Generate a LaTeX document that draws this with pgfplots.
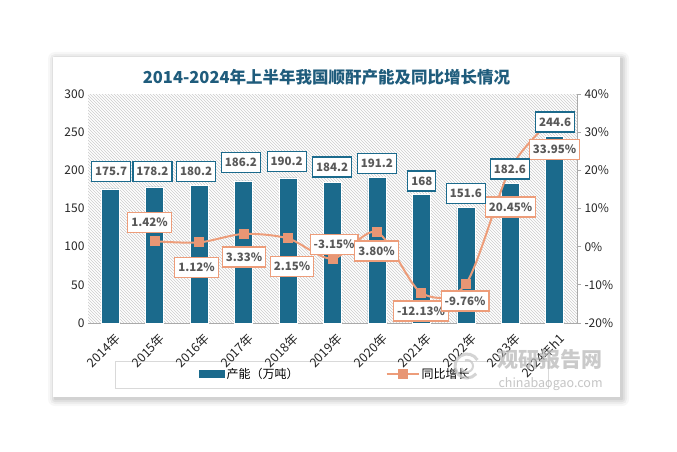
\documentclass[border=0pt]{standalone}
\usepackage{pgfplots}
\pgfplotsset{compat=1.18}
\usetikzlibrary{patterns}
\usepackage{fontspec}
\setmainfont{Noto Sans CJK SC}

\definecolor{barc}{RGB}{27,106,140}
\definecolor{linec}{RGB}{237,157,122}
\definecolor{markc}{RGB}{232,150,116}
\definecolor{txtc}{RGB}{89,89,89}
\definecolor{titlec}{RGB}{31,92,124}
\definecolor{axc}{RGB}{170,170,170}

\tikzset{
  bl/.style={draw=barc, fill=white, line width=1.2pt, text=txtc,
    font=\bfseries\fontsize{11.5}{12}\selectfont, inner xsep=3.5pt, inner ysep=2pt, minimum height=20pt},
  ll/.style={bl, draw=linec}
}
\pgfplotsset{
  linelegend/.style={legend image code/.code={%
    \draw[mark repeat=2,mark phase=2,##1] plot coordinates {(0pt,0pt) (16pt,0pt) (32pt,0pt)};}},
  barlegend/.style={legend image code/.code={%
    \fill[barc] (0pt,-3.5pt) rectangle (25pt,3.5pt);}}
}

\begin{document}
\begin{tikzpicture}[x=1pt,y=1pt]
\path[fill=white,use as bounding box] (0,0) rectangle (677,451);
% card with soft shadow
\foreach \d/\o in {7/0.03,5/0.04,3/0.05,1/0.06}{
  \fill[black,opacity=\o,rounded corners=\d] (53-\d+2,54-\d-2) rectangle (620+\d+2,394+\d-2);}
\fill[white] (53,54) rectangle (620,394);
% title
\node[font=\bfseries\fontsize{16.5}{18}\selectfont, text=titlec] at (326.5,374) {2014-2024年上半年我国顺酐产能及同比增长情况};
% legend frame
\draw[gray!30, line width=0.8pt] (115,63) rectangle (548,90);

\begin{axis}[
    at={(88pt,128pt)}, anchor=south west,
    scale only axis, width=489pt, height=229pt,
    xmin=-0.5, xmax=10.5, ymin=0, ymax=300,
    axis x line*=bottom, axis y line*=left,
    y axis line style={draw=none},
    x axis line style={draw=axc, line width=0.8pt, -},
    ytick={0,50,...,300}, yticklabels={0,50,100,150,200,250,300},
    ytick style={draw=none}, xtick style={draw=none},
    xtick={0,...,10},
    xticklabels={2014年,2015年,2016年,2017年,2018年,2019年,2020年,2021年,2022年,2023年,2024年h1},
    xticklabel style={rotate=45, anchor=north east, inner sep=1pt, yshift=-5pt,
      font=\fontsize{12.5}{13}\selectfont, text=black!85},
    yticklabel style={font=\fontsize{12}{13}\selectfont, text=black!85},
    axis background/.style={pattern=north west lines, pattern color=gray!40},
    ybar, bar width=18pt, clip=false
  ]
  \addplot[fill=barc, draw=white, line width=0.6pt] coordinates {
    (0,175.7) (1,178.2) (2,180.2) (3,186.2) (4,190.2) (5,184.2)
    (6,191.2) (7,168) (8,151.6) (9,182.6) (10,244.6)
  };
\end{axis}

\begin{axis}[
    at={(88pt,128pt)}, anchor=south west,
    scale only axis, width=489pt, height=229pt,
    xmin=-0.5, xmax=10.5, ymin=-20, ymax=40,
    axis x line=none, axis y line*=right,
    y axis line style={draw=axc, line width=0.8pt, -},
    ytick={-20,-10,...,40},
    yticklabels={-20\%,-10\%,0\%,10\%,20\%,30\%,40\%},
    tick align=outside, major tick length=4pt,
    ytick style={draw=axc, line width=0.8pt},
    yticklabel style={font=\fontsize{12}{13}\selectfont, text=black!85},
    clip=false,
    legend columns=2,
    legend style={at={(0.227,-0.2227)}, anchor=west, draw=none, fill=none,
      inner sep=0pt, font=\fontsize{12}{13}\selectfont,
      /tikz/every even column/.append style={column sep=85pt}}
  ]
  \addlegendimage{barlegend}
  \addlegendentry{产能（万吨）}
  \addplot[linec, line width=2pt, smooth, mark=square*, mark size=4.5pt,
    mark options={fill=markc, draw=markc, line width=0pt}, linelegend]
    coordinates {
    (1,1.42) (2,1.12) (3,3.33) (4,2.15) (5,-3.15) (6,3.80)
    (7,-12.13) (8,-9.76) (9,20.45) (10,33.95)
  };
  \addlegendentry{同比增长}
  % label anchor points (growth labels)
  \coordinate (g1) at (axis cs:0.884,6.42);
  \coordinate (g2) at (axis cs:1.941,-5.45);
  \coordinate (g3) at (axis cs:3.008,-2.70);
  \coordinate (g4) at (axis cs:4.089,-5.19);
  \coordinate (g5) at (axis cs:5.034,0.58);
  \coordinate (g6) at (axis cs:5.991,-1.13);
  \coordinate (g7) at (axis cs:6.990,-16.85);
  \coordinate (g8) at (axis cs:7.981,-14.23);
  \coordinate (g9) at (axis cs:9.005,10.40);
  \coordinate (g10) at (axis cs:9.995,25.46);
  % label anchor points (capacity labels)
  \coordinate (c0) at (axis cs:0.02,19.65);
  \coordinate (c1) at (axis cs:0.95,19.65);
  \coordinate (c2) at (axis cs:1.93,19.65);
  \coordinate (c3) at (axis cs:2.94,22.06);
  \coordinate (c4) at (axis cs:3.97,22.27);
  \coordinate (c5) at (axis cs:4.99,20.88);
  \coordinate (c6) at (axis cs:6.00,21.80);
  \coordinate (c7) at (axis cs:7.01,17.21);
  \coordinate (c8) at (axis cs:8.00,13.89);
  \coordinate (c9) at (axis cs:8.99,20.36);
  \coordinate (c10) at (axis cs:10.01,32.67);
\end{axis}

% data labels on top of everything
\node[ll] at (g1) {1.42\%};
\node[ll] at (g2) {1.12\%};
\node[ll] at (g3) {3.33\%};
\node[ll] at (g4) {2.15\%};
\node[ll] at (g5) {-3.15\%};
\node[ll] at (g6) {3.80\%};
\node[ll] at (g7) {-12.13\%};
\node[ll] at (g8) {-9.76\%};
\node[ll] at (g9) {20.45\%};
\node[ll] at (g10) {33.95\%};
\node[bl] at (c0) {175.7};
\node[bl] at (c1) {178.2};
\node[bl] at (c2) {180.2};
\node[bl] at (c3) {186.2};
\node[bl] at (c4) {190.2};
\node[bl] at (c5) {184.2};
\node[bl] at (c6) {191.2};
\node[bl] at (c7) {168};
\node[bl] at (c8) {151.6};
\node[bl] at (c9) {182.6};
\node[bl] at (c10) {244.6};

% watermark
\begin{scope}[opacity=0.75]
  \draw[gray!45, line width=3pt] (467,85) ++(30:12) arc (30:320:12);
  \draw[gray!45, line width=2pt] (467,85) ++(200:6) arc (200:470:6);
  \node[anchor=west, text=gray!55, font=\bfseries\fontsize{21}{22}\selectfont] at (494,91.5) {观研报告网};
  \node[anchor=west, text=gray!60, font=\fontsize{12.5}{13}\selectfont] at (495,67) {chinabaogao.com};
\end{scope}
\end{tikzpicture}
\end{document}
